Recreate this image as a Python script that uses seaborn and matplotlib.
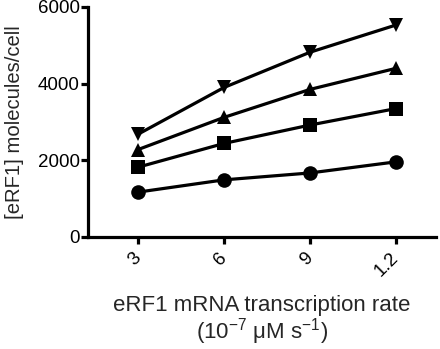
import matplotlib
matplotlib.use("Agg")
import matplotlib.pyplot as plt
import pandas as pd
import seaborn as sns

# transcription rate (x 10^-7 uM/s) and tick labels as printed
rates = [3, 6, 9, 12]
rate_labels = ["3", "6", "9", "1.2"]

# eRF1 molecules per cell for the four conditions
circle_vals = [1170, 1490, 1670, 1960]
square_vals = [1820, 2440, 2920, 3350]
up_vals = [2280, 3120, 3850, 4400]
down_vals = [2680, 3900, 4820, 5530]

series_names = ["circle", "square", "up", "down"]
series_vals = [circle_vals, square_vals, up_vals, down_vals]
series_markers = ["o", "s", "^", "v"]

rows = []
for name, vals in zip(series_names, series_vals):
    for r, v in zip(rates, vals):
        rows.append({"rate": r, "molecules": v, "series": name})
frame = pd.DataFrame(rows)

sns.set_style("ticks")
plt.rcParams["font.family"] = ["Liberation Sans", "DejaVu Sans"]
plt.rcParams["mathtext.fontset"] = "custom"
plt.rcParams["mathtext.rm"] = "Liberation Sans"
plt.rcParams["mathtext.it"] = "Liberation Sans"

fig = plt.figure(figsize=(4.4, 3.49), dpi=100)
axis = fig.add_axes([0.2, 0.321, 0.791, 0.659])

sns.lineplot(
    data=frame,
    x="rate",
    y="molecules",
    style="series",
    markers=dict(zip(series_names, series_markers)),
    dashes=False,
    color="black",
    linewidth=2.3,
    markersize=10.5,
    markeredgewidth=0,
    legend=False,
    ax=axis,
)

axis.set_xlim(1.256, 13.395)
axis.set_ylim(0, 6000)
axis.set_yticks([0, 2000, 4000, 6000])
axis.set_xticks(rates)
axis.set_xticklabels(rate_labels, rotation=45, ha="right", va="center",
                     rotation_mode="anchor")

sns.despine(ax=axis)
for side in ("left", "bottom"):
    axis.spines[side].set_linewidth(2.3)
    axis.spines[side].set_color("black")
axis.tick_params(axis="both", width=2.3, length=5, labelsize=13.5, pad=1,
                 colors="black")
axis.tick_params(axis="x", pad=8)

axis.set_xlabel("eRF1 mRNA transcription rate\n"
                "(10$^{\\mathregular{-7}}$ \u03bcM s$^{\\mathregular{-1}}$)",
                fontsize=16, labelpad=11, linespacing=1.0)
axis.set_ylabel("[eRF1] molecules/cell", fontsize=14.6, labelpad=10)

fig.savefig("out.png", dpi=100)
